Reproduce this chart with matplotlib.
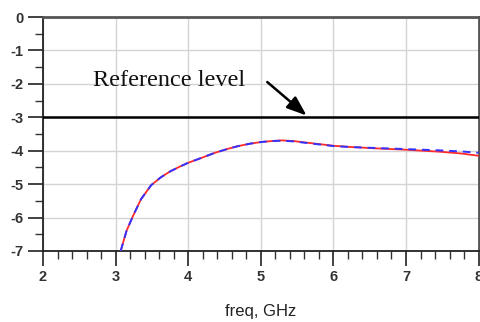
import matplotlib
matplotlib.use("Agg")
import matplotlib.pyplot as plt
from matplotlib.ticker import MultipleLocator

plt.rcParams["axes.unicode_minus"] = False

freq = [3.07, 3.15, 3.24, 3.35, 3.49, 3.62, 3.75, 3.88, 4.0, 4.2, 4.37, 4.55, 4.69, 4.85, 5.0,
        5.15, 5.29, 5.45, 5.68, 6.0, 6.25, 6.6, 7.0, 7.47, 7.75, 8.0]
s_red = [-7.0, -6.4, -5.95, -5.45, -5.03, -4.8, -4.62, -4.48, -4.36, -4.2, -4.06, -3.94, -3.86,
         -3.79, -3.74, -3.71, -3.69, -3.71, -3.77, -3.85, -3.89, -3.93, -3.97, -4.03, -4.08, -4.15]
s_blue = [-7.0, -6.4, -5.95, -5.45, -5.03, -4.8, -4.62, -4.48, -4.36, -4.2, -4.06, -3.94, -3.86,
          -3.79, -3.74, -3.71, -3.70, -3.72, -3.78, -3.86, -3.89, -3.92, -3.95, -3.99, -4.02, -4.06]
ref_level = -3.0
xticks = [2, 3, 4, 5, 6, 7, 8]
yticks = [0, -1, -2, -3, -4, -5, -6, -7]

fig = plt.figure(figsize=(4.81, 3.22), dpi=100)
ax = fig.add_axes([0.0894, 0.2205, 0.9056, 0.7265])

ax.set_xlim(2, 8)
ax.set_ylim(-7, 0)
ax.set_xticks(xticks)
ax.set_yticks(yticks)
ax.xaxis.set_minor_locator(MultipleLocator(0.2))
ax.yaxis.set_minor_locator(MultipleLocator(0.5))
ax.grid(True, which="major", color="#d4d4d4", lw=1.0)
ax.set_axisbelow(True)

ax.plot(freq, s_red, color="#ff2a2a", lw=1.3, zorder=3)
ax.plot(freq, s_blue, color="#3333ff", lw=1.4, ls=(0, (4, 3)), zorder=4)
ax.axhline(ref_level, color="black", lw=1.8, zorder=5)

ax.text(2.69, -1.89, "Reference level", family="Liberation Serif", fontsize=17.5,
        va="center", ha="left", color="#111111")
ax.annotate("", xy=(5.66, -3.0), xytext=(5.06, -1.89),
            arrowprops=dict(arrowstyle="-|>,head_length=1.2,head_width=0.45",
                            color="black", lw=1.8), zorder=6)

for s in ["left", "bottom"]:
    ax.spines[s].set_color("#222222")
    ax.spines[s].set_linewidth(1.3)
for s in ["top", "right"]:
    ax.spines[s].set_color("#555555")
    ax.spines[s].set_linewidth(2.0)

ax.tick_params(which="major", direction="out", length=11, width=1.3, color="#333333",
               labelsize=10.5, pad=3)
ax.tick_params(which="minor", direction="out", length=6, width=1.0, color="#333333")
ax.tick_params(axis="x", which="both", top=False)
ax.tick_params(axis="y", which="both", right=False)
for lab in ax.get_xticklabels() + ax.get_yticklabels():
    lab.set_family("Liberation Sans")
    lab.set_fontweight("bold")
    lab.set_color("#333333")

ax.set_xlabel("freq, GHz", family="Liberation Sans", fontsize=12, color="#222222", labelpad=14)

fig.savefig("out.png", dpi=100)
